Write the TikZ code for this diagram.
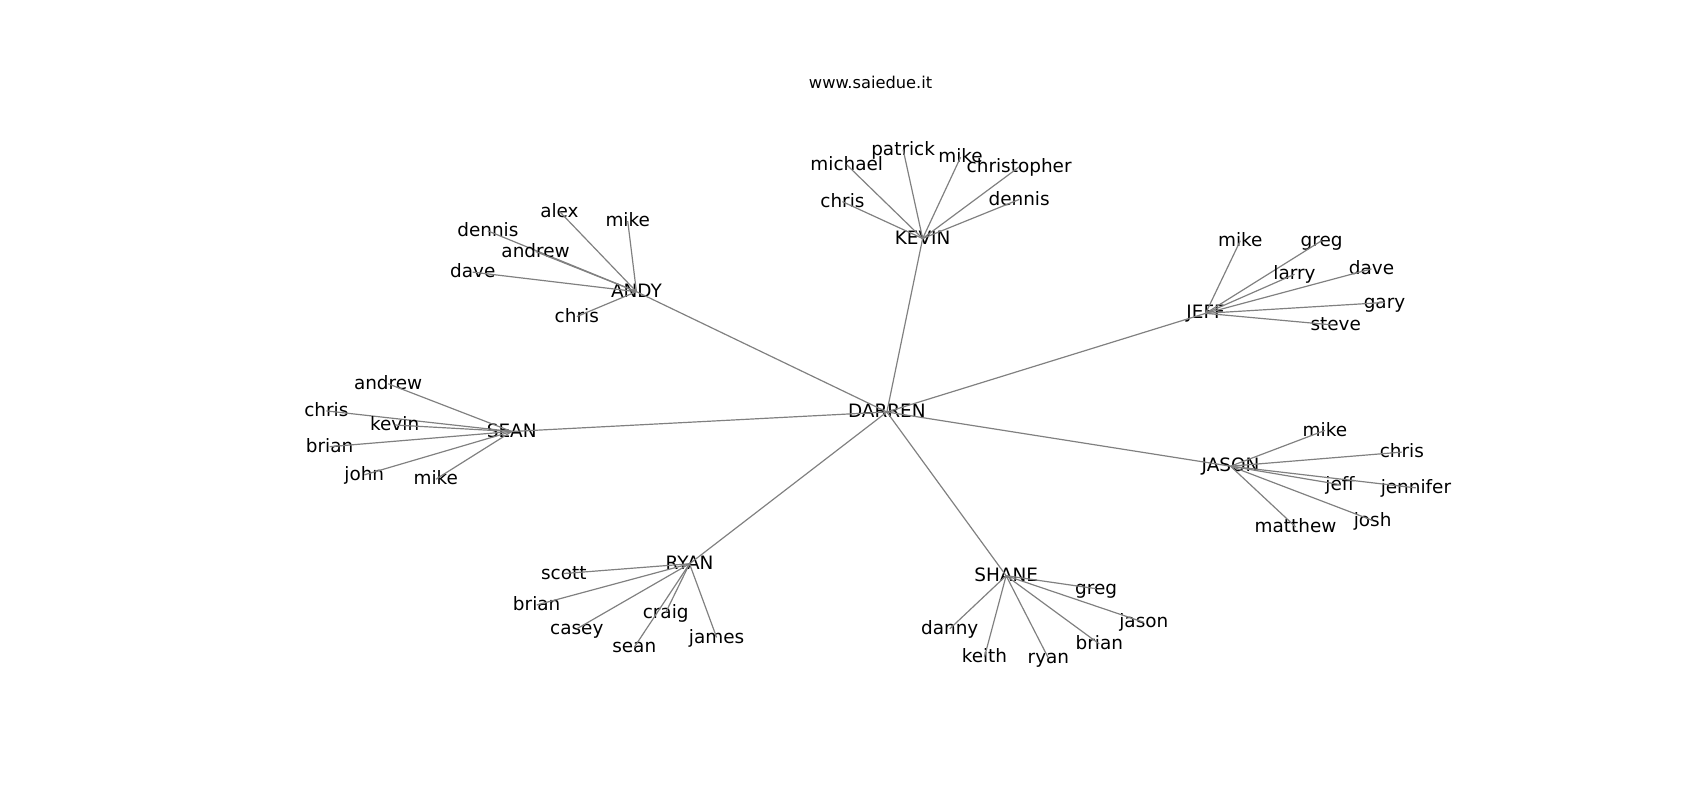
\documentclass[tikz,border=0pt]{standalone}
\usepackage{fontspec}
\setmainfont{DejaVu Sans}
\usepackage{tikz}

\tikzset{
  lbl/.style={inner sep=0pt, text height=0.76em, text depth=0.24em, font=\fontsize{8.5}{10}\selectfont},
  edge/.style={gray, line width=0.55pt}
}

\begin{document}
\begin{tikzpicture}[x=0.5pt,y=-0.5pt]
    \useasboundingbox (0,0) rectangle (1568,738);
    \node[inner sep=0pt, font=\fontsize{7.5}{9}\selectfont] (title) at (803,76) {www.saiedue.it};
    % hubs
    \node[lbl] (darren) at (818,380) {DARREN};
    \node[lbl] (kevin) at (851,220) {KEVIN};
    \node[lbl] (andy) at (587,269) {ANDY};
    \node[lbl] (jeff) at (1112,289) {JEFF};
    \node[lbl] (sean) at (472,398) {SEAN};
    \node[lbl] (jason) at (1135,430) {JASON};
    \node[lbl] (ryan) at (636,520) {RYAN};
    \node[lbl] (shane) at (928,531) {SHANE};
    \foreach \h in {kevin,andy,jeff,sean,jason,ryan,shane}
        \draw[edge] (darren.center) -- (\h.center);
    % leaves
    \foreach \n/\x/\y in {michael/781/152, patrick/833/138, mike/886/145, christopher/940/154, chris/777/186, dennis/940/184} {
        \node[lbl] (kevin-\n) at (\x,\y) {\n};
        \draw[edge] (kevin.center) -- (kevin-\n.center);
    }
    \foreach \n/\x/\y in {alex/516/195, mike/579/204, dennis/450/213, andrew/494/232, dave/436/251, chris/532/292} {
        \node[lbl] (andy-\n) at (\x,\y) {\n};
        \draw[edge] (andy.center) -- (andy-\n.center);
    }
    \foreach \n/\x/\y in {mike/1144/222, greg/1219/222, larry/1194/253, dave/1265/248, gary/1277/279, steve/1232/300} {
        \node[lbl] (jeff-\n) at (\x,\y) {\n};
        \draw[edge] (jeff.center) -- (jeff-\n.center);
    }
    \foreach \n/\x/\y in {andrew/358/354, chris/301/379, kevin/364/392, brian/304/412, john/336/438, mike/402/442} {
        \node[lbl] (sean-\n) at (\x,\y) {\n};
        \draw[edge] (sean.center) -- (sean-\n.center);
    }
    \foreach \n/\x/\y in {mike/1222/397, chris/1293/417, jeff/1236/447, jennifer/1306/450, josh/1266/480, matthew/1195/486} {
        \node[lbl] (jason-\n) at (\x,\y) {\n};
        \draw[edge] (jason.center) -- (jason-\n.center);
    }
    \foreach \n/\x/\y in {scott/520/529, brian/495/558, casey/532/580, craig/614/565, sean/585/597, james/661/588} {
        \node[lbl] (ryan-\n) at (\x,\y) {\n};
        \draw[edge] (ryan.center) -- (ryan-\n.center);
    }
    \foreach \n/\x/\y in {greg/1011/543, jason/1055/574, danny/876/580, keith/908/606, ryan/967/607, brian/1014/594} {
        \node[lbl] (shane-\n) at (\x,\y) {\n};
        \draw[edge] (shane.center) -- (shane-\n.center);
    }
\end{tikzpicture}
\end{document}
